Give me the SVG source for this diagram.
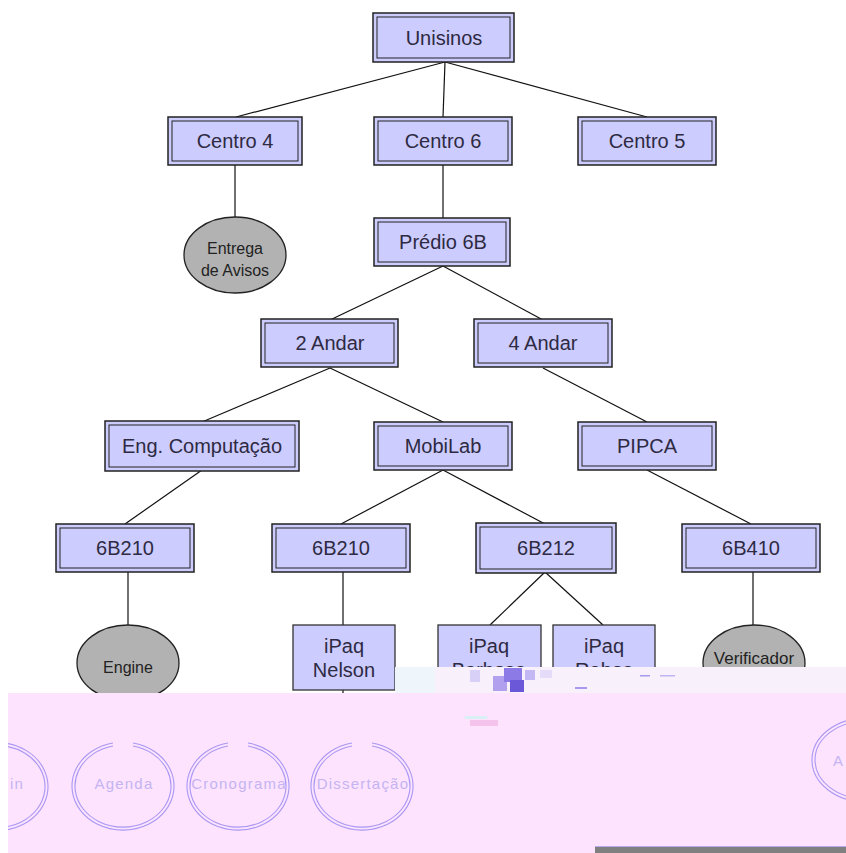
<svg xmlns="http://www.w3.org/2000/svg" width="846" height="853" viewBox="0 0 846 853">
<style>
.bo{fill:#ccccff;stroke:#222;stroke-width:1.5}
.bi{fill:none;stroke:#222;stroke-width:1}
.bs{fill:#ccccff;stroke:#333;stroke-width:1.3}
.el{fill:#b2b2b2;stroke:#222;stroke-width:1.3}
.t{font-family:"Liberation Sans",Arial,sans-serif;font-size:20px;fill:#2e2a42;text-anchor:middle}
.ts{font-family:"Liberation Sans",Arial,sans-serif;font-size:16px;fill:#222;text-anchor:middle}
.c line{stroke:#111;stroke-width:1.2}
.pc{fill:none;stroke:#a898f4;stroke-width:1.1}
.pt{font-family:"Liberation Sans",Arial,sans-serif;font-size:15px;letter-spacing:1.2px;fill:#c4b4f2;text-anchor:middle}
</style>
<rect width="846" height="853" fill="#ffffff"/>
<g class="c" id="connectors">
<line x1="445" y1="62" x2="236" y2="117"/>
<line x1="445" y1="62" x2="443" y2="117"/>
<line x1="445" y1="62" x2="647" y2="117"/>
<line x1="235" y1="165" x2="235" y2="217"/>
<line x1="443" y1="165" x2="443" y2="218"/>
<line x1="443" y1="266" x2="330" y2="320"/>
<line x1="443" y1="266" x2="543" y2="320"/>
<line x1="330" y1="368" x2="202" y2="422"/>
<line x1="330" y1="368" x2="443" y2="422"/>
<line x1="543" y1="368" x2="647" y2="422"/>
<line x1="202" y1="470" x2="125" y2="524"/>
<line x1="443" y1="470" x2="341" y2="524"/>
<line x1="443" y1="470" x2="545" y2="524"/>
<line x1="647" y1="470" x2="751" y2="524"/>
<line x1="128" y1="572" x2="128" y2="625"/>
<line x1="343" y1="572" x2="343" y2="625"/>
<line x1="545" y1="572" x2="490" y2="625"/>
<line x1="545" y1="572" x2="603" y2="625"/>
<line x1="753" y1="572" x2="753" y2="625"/>
<line x1="343" y1="690" x2="343" y2="695"/>
</g>
<g id="n-unisinos"><rect class="bo" x="373" y="13" width="141" height="49"/><rect class="bi" x="377" y="17" width="133" height="41"/><text class="t" x="444" y="45">Unisinos</text></g>
<g id="n-centro4"><rect class="bo" x="168" y="117" width="134" height="48"/><rect class="bi" x="172" y="121" width="126" height="40"/><text class="t" x="235" y="148">Centro 4</text></g>
<g id="n-centro6"><rect class="bo" x="374" y="117" width="138" height="48"/><rect class="bi" x="378" y="121" width="130" height="40"/><text class="t" x="443" y="148">Centro 6</text></g>
<g id="n-centro5"><rect class="bo" x="578" y="117" width="138" height="48"/><rect class="bi" x="582" y="121" width="130" height="40"/><text class="t" x="647" y="148">Centro 5</text></g>
<g id="n-entrega"><ellipse class="el" cx="235" cy="255" rx="51" ry="38"/><text class="ts" x="235" y="254">Entrega</text><text class="ts" x="235" y="276">de Avisos</text></g>
<g id="n-predio"><rect class="bo" x="374" y="218" width="136" height="48"/><rect class="bi" x="378" y="222" width="128" height="40"/><text class="t" x="443" y="249">Prédio 6B</text></g>
<g id="n-2andar"><rect class="bo" x="261" y="319" width="137" height="48"/><rect class="bi" x="265" y="323" width="129" height="40"/><text class="t" x="330" y="350">2 Andar</text></g>
<g id="n-4andar"><rect class="bo" x="474" y="319" width="138" height="48"/><rect class="bi" x="478" y="323" width="130" height="40"/><text class="t" x="543" y="350">4 Andar</text></g>
<g id="n-engcomp"><rect class="bo" x="105" y="421" width="194" height="50"/><rect class="bi" x="109" y="425" width="186" height="42"/><text class="t" x="202" y="453">Eng. Computação</text></g>
<g id="n-mobilab"><rect class="bo" x="374" y="422" width="138" height="48"/><rect class="bi" x="378" y="426" width="130" height="40"/><text class="t" x="443" y="453">MobiLab</text></g>
<g id="n-pipca"><rect class="bo" x="578" y="422" width="138" height="48"/><rect class="bi" x="582" y="426" width="130" height="40"/><text class="t" x="647" y="453">PIPCA</text></g>
<g id="n-6b210a"><rect class="bo" x="56" y="524" width="138" height="48"/><rect class="bi" x="60" y="528" width="130" height="40"/><text class="t" x="125" y="555">6B210</text></g>
<g id="n-6b210b"><rect class="bo" x="272" y="524" width="138" height="48"/><rect class="bi" x="276" y="528" width="130" height="40"/><text class="t" x="341" y="555">6B210</text></g>
<g id="n-6b212"><rect class="bo" x="476" y="523" width="140" height="50"/><rect class="bi" x="480" y="527" width="132" height="42"/><text class="t" x="546" y="555">6B212</text></g>
<g id="n-6b410"><rect class="bo" x="682" y="524" width="138" height="48"/><rect class="bi" x="686" y="528" width="130" height="40"/><text class="t" x="751" y="555">6B410</text></g>
<g id="n-engine"><ellipse class="el" cx="128" cy="663" rx="51" ry="38"/><text class="ts" x="128" y="673">Engine</text></g>
<g id="n-ipaqnelson"><rect class="bs" x="293" y="625" width="102" height="65"/><text class="t" x="344" y="653">iPaq</text><text class="t" x="344" y="677">Nelson</text></g>
<g id="n-ipaqbarbosa"><rect class="bs" x="438" y="625" width="103" height="65"/><text class="t" x="489" y="653">iPaq</text><text class="t" x="489" y="677">Barbosa</text></g>
<g id="n-ipaqrabes"><rect class="bs" x="553" y="625" width="102" height="65"/><text class="t" x="604" y="653">iPaq</text><text class="t" x="604" y="677">Rabes</text></g>
<g id="n-verificador"><ellipse class="el" cx="754" cy="663" rx="51" ry="38"/><text class="ts" x="754" y="664" style="font-size:17px">Verificador</text></g>
<g id="overlay">
<rect x="395" y="667" width="451" height="26" fill="#f8f0fb"/>
<rect x="395" y="667" width="40" height="26" fill="#eef6fb"/>
<rect x="470" y="670" width="10" height="12" fill="#d8d0f6"/>
<rect x="493" y="676" width="14" height="15" fill="#b0a0ee"/>
<rect x="504" y="668" width="18" height="14" fill="#8c7ae6"/>
<rect x="510" y="680" width="14" height="12" fill="#6a58d8"/>
<rect x="525" y="670" width="10" height="10" fill="#c4b8f4"/>
<rect x="540" y="670" width="12" height="8" fill="#e4dcf8"/>
<rect x="575" y="687" width="12" height="2" fill="#a898f0"/>
<rect x="640" y="675" width="10" height="1.5" fill="#a898f0"/>
<rect x="660" y="675" width="15" height="1.5" fill="#c0b4f2"/>
<rect x="8" y="693" width="838" height="160" fill="#fde3fd"/>
<rect x="470" y="720" width="28" height="6" fill="#f4c4ec"/>
<rect x="465" y="716" width="22" height="3" fill="#d8f0f4"/>
<rect x="595" y="847" width="251" height="6" fill="#808080"/>
<line x1="595" y1="846.5" x2="846" y2="846.5" stroke="#b8a8ee" stroke-width="1"/>
<clipPath id="cl"><rect x="8" y="693" width="838" height="160"/></clipPath>
<g clip-path="url(#cl)">
<g id="n-p1"><path class="pc" d="M 4 743 A 51 44 0 1 1 -10 743"/><path class="pc" d="M 4 746 A 48 41 0 1 1 -10 746"/><text class="pt" x="10" y="789" style="text-anchor:start">in</text></g>
<g id="n-agenda"><path class="pc" d="M 133 743 A 51 44 0 1 1 113 743"/><path class="pc" d="M 133 746 A 48 41 0 1 1 113 746"/><text class="pt" x="124" y="789">Agenda</text></g>
<g id="n-cronograma"><path class="pc" d="M 248 743 A 51 44 0 1 1 228 743"/><path class="pc" d="M 248 746 A 48 41 0 1 1 228 746"/><text class="pt" x="239" y="789">Cronograma</text></g>
<g id="n-dissertacao"><path class="pc" d="M 372 743 A 51 44 0 1 1 352 743"/><path class="pc" d="M 372 746 A 48 41 0 1 1 352 746"/><text class="pt" x="363" y="789">Dissertação</text></g>
<g id="n-p5"><ellipse class="pc" cx="866" cy="760" rx="54" ry="42"/><ellipse class="pc" cx="866" cy="760" rx="51" ry="39"/><text class="pt" x="833" y="766" style="text-anchor:start">A</text></g>
</g>
</g>
</svg>
